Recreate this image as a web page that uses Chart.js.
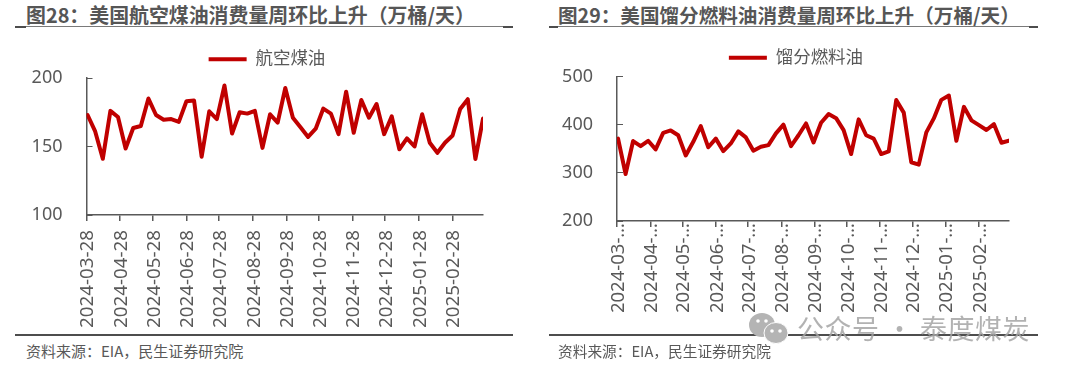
<!DOCTYPE html>
<html>
<head>
<meta charset="utf-8">
<script src="https://cdn.jsdelivr.net/npm/chart.js@4/dist/chart.umd.min.js"></script>
<style>
  html, body { margin: 0; padding: 0; background: #fff; }
  body { width: 1079px; height: 371px; position: relative; overflow: hidden; font-family: "Noto Sans", "Noto Sans CJK SC", sans-serif; color: #595959; }
  .title { position: absolute; top: 1px; font: bold 19.6px/28px "Noto Sans CJK SC", sans-serif; color: #565656; white-space: nowrap; }
  .source { position: absolute; top: 340px; font: 14.8px/22px "Noto Sans CJK SC", sans-serif; color: #595959; white-space: nowrap; }
  .rule { position: absolute; background: #4d4d4d; }
  .box { position: absolute; top: 28px; height: 307px; }
  .mark { position: absolute; left: 797px; top: 308px; font: 27px/40px "Noto Sans CJK SC", sans-serif; color: rgba(165,165,165,.85); white-space: nowrap; letter-spacing: 0.5px; }
  svg.wechat { position: absolute; left: 748px; top: 311px; }
</style>
</head>
<body>

<div class="title" style="left:26px;font-size:19.9px">图28：美国航空煤油消费量周环比上升（万桶/天）</div>
<div class="title" style="left:558px">图29：美国馏分燃料油消费量周环比上升（万桶/天）</div>

<div class="rule" style="left:15px;top:26px;width:498px;height:1px;background:#7a7a7a"></div>
<div class="rule" style="left:15px;top:26px;width:11px;height:2px"></div>
<div class="rule" style="left:503px;top:26px;width:10px;height:2px"></div>
<div class="rule" style="left:549px;top:26px;width:489px;height:1px;background:#7a7a7a"></div>
<div class="rule" style="left:549px;top:26px;width:9px;height:2px"></div>
<div class="rule" style="left:1029px;top:26px;width:9px;height:2px"></div>

<div class="box" style="left:0;width:534px"><canvas id="jetChart"></canvas></div>
<div class="box" style="left:530px;width:532px"><canvas id="distChart"></canvas></div>

<div class="rule" style="left:15px;top:334px;width:498px;height:2px"></div>
<div class="rule" style="left:549px;top:334px;width:489px;height:2px"></div>

<div class="source" style="left:26px;font-size:15px">资料来源：EIA，民生证券研究院</div>
<div class="source" style="left:558px;font-size:14.7px">资料来源：EIA，民生证券研究院</div>

<svg class="wechat" width="44" height="36" viewBox="0 0 44 36">
  <ellipse cx="14" cy="14" rx="13" ry="12" fill="#b4b4b4"/>
  <ellipse cx="28" cy="22" rx="12" ry="10.5" fill="#b4b4b4" stroke="#fff" stroke-width="1"/>
  <circle cx="24" cy="20" r="1.8" fill="#fff"/>
  <circle cx="32" cy="20" r="1.8" fill="#fff"/>
  <circle cx="10" cy="10" r="1.8" fill="#fff"/>
  <circle cx="18" cy="10" r="1.8" fill="#fff"/>
</svg>
<div class="mark">公众号 · 泰度煤炭</div>

<script>
const weekDates = [
  '2024-03-29', '2024-04-05', '2024-04-12', '2024-04-19', '2024-04-26', '2024-05-03', '2024-05-10', '2024-05-17',
  '2024-05-24', '2024-05-31', '2024-06-07', '2024-06-14', '2024-06-21', '2024-06-28', '2024-07-05', '2024-07-12',
  '2024-07-19', '2024-07-26', '2024-08-02', '2024-08-09', '2024-08-16', '2024-08-23', '2024-08-30', '2024-09-06',
  '2024-09-13', '2024-09-20', '2024-09-27', '2024-10-04', '2024-10-11', '2024-10-18', '2024-10-25', '2024-11-01',
  '2024-11-08', '2024-11-15', '2024-11-22', '2024-11-29', '2024-12-06', '2024-12-13', '2024-12-20', '2024-12-27',
  '2025-01-03', '2025-01-10', '2025-01-17', '2025-01-24', '2025-01-31', '2025-02-07', '2025-02-14', '2025-02-21',
  '2025-02-28', '2025-03-07', '2025-03-14', '2025-03-21', '2025-03-28'
];
const tickDates = [
  '2024-03-28', '2024-04-28', '2024-05-28', '2024-06-28', '2024-07-28', '2024-08-28',
  '2024-09-28', '2024-10-28', '2024-11-28', '2024-12-28', '2025-01-28', '2025-02-28'
];
const jetLabels = tickDates;
const distLabels = [
  '2024-03-…', '2024-04-…', '2024-05-…', '2024-06-…', '2024-07-…', '2024-08-…',
  '2024-09-…', '2024-10-…', '2024-11-…', '2024-12-…', '2025-01-…', '2025-02-…'
];
const jetFuel = [
  173, 161, 141, 176, 171.5, 148.5, 163.5, 165, 185, 173, 169.5, 170, 168, 183, 183.5, 142.5, 175.7, 170,
  194.5, 159.5, 175, 174, 176, 149, 173.5, 167.5, 192.7, 171, 164, 157, 163, 177.7, 174, 159, 190, 160,
  184, 171, 181, 159, 172, 148, 156, 150, 173.5, 152.7, 145.4, 152.7, 158, 177.4, 184.5, 140.8, 170.4
];
const distillate = [
  371, 297.5, 366, 355.5, 366.5, 348.6, 383, 388, 378, 336, 364.5, 397, 353, 371, 345, 361, 386, 373.5,
  346, 354, 357.5, 382, 400, 355.5, 378, 402.5, 363, 404, 422, 413.5, 388.6, 339, 411, 378, 371, 339,
  344.5, 451, 425, 322, 317, 384, 413, 451.5, 460.5, 366.5, 437, 409, 399, 389, 401, 362.4, 367
];

const toDay = s => Date.parse(s) / 864e5;
const red = '#C00000';
const grey = '#595959';
const font = '"Noto Sans", "Noto Sans CJK SC", sans-serif';

function lineChart(id, name, values, tickLabels, yMin, yMax, yStep, yW, rightPad, bottomH, plotTop, topPad, legendPad, xPad, xSize) {
  new Chart(document.getElementById(id), {
    type: 'line',
    data: {
      datasets: [{
        label: name,
        data: values.map((v, i) => ({ x: toDay(weekDates[i]), y: v })),
        borderColor: red,
        backgroundColor: red,
        borderWidth: 4,
        borderCapStyle: 'round',
        borderJoinStyle: 'round',
        pointRadius: 0,
        tension: 0
      }]
    },
    options: {
      responsive: true,
      maintainAspectRatio: false,
      animation: false,
      layout: { padding: { top: topPad, right: 0, left: 0, bottom: 0 } },
      plugins: {
        tooltip: { enabled: false },
        legend: {
          position: 'top',
          labels: {
            usePointStyle: true,
            pointStyle: 'line',
            pointStyleWidth: 38,
            color: grey,
            padding: legendPad,
            font: { family: font, size: 17.5 }
          }
        }
      },
      scales: {
        x: {
          type: 'linear',
          min: toDay('2024-03-28'),
          max: toDay('2025-03-28'),
          afterBuildTicks: s => { s.ticks = tickDates.map(d => ({ value: toDay(d) })); },
          // right gap goes through the scale padding so the legend stays centred on the canvas
          afterFit: s => { s.height = bottomH; s.paddingRight = rightPad; },
          grid: { drawOnChartArea: false, color: grey, tickLength: 6, lineWidth: 1.5 },
          border: { color: grey, width: 1.5 },
          ticks: {
            autoSkip: false,
            minRotation: 90,
            maxRotation: 90,
            padding: xPad,
            labelOffset: 1.5,
            color: grey,
            font: { family: font, size: xSize },
            callback: (v, i) => tickLabels[i]
          }
        },
        y: {
          min: yMin,
          max: yMax,
          afterFit: s => { s.width = yW; s.paddingTop = plotTop; },
          grid: { drawOnChartArea: false, color: grey, tickLength: -6, lineWidth: 1 },
          border: { color: grey, width: 1.5 },
          ticks: {
            stepSize: yStep,
            padding: 30,
            color: grey,
            font: { family: font, size: 18 }
          }
        }
      }
    }
  });
}

lineChart('jetChart', '航空煤油', jetFuel, jetLabels, 100, 200, 50, 86.5, 51, 120, 50, 9, 12, 9, 18.8);
lineChart('distChart', '馏分燃料油', distillate, distLabels, 200, 500, 100, 87, 53, 114, 48, 11, 10, -4, 18.5);
</script>
</body>
</html>
